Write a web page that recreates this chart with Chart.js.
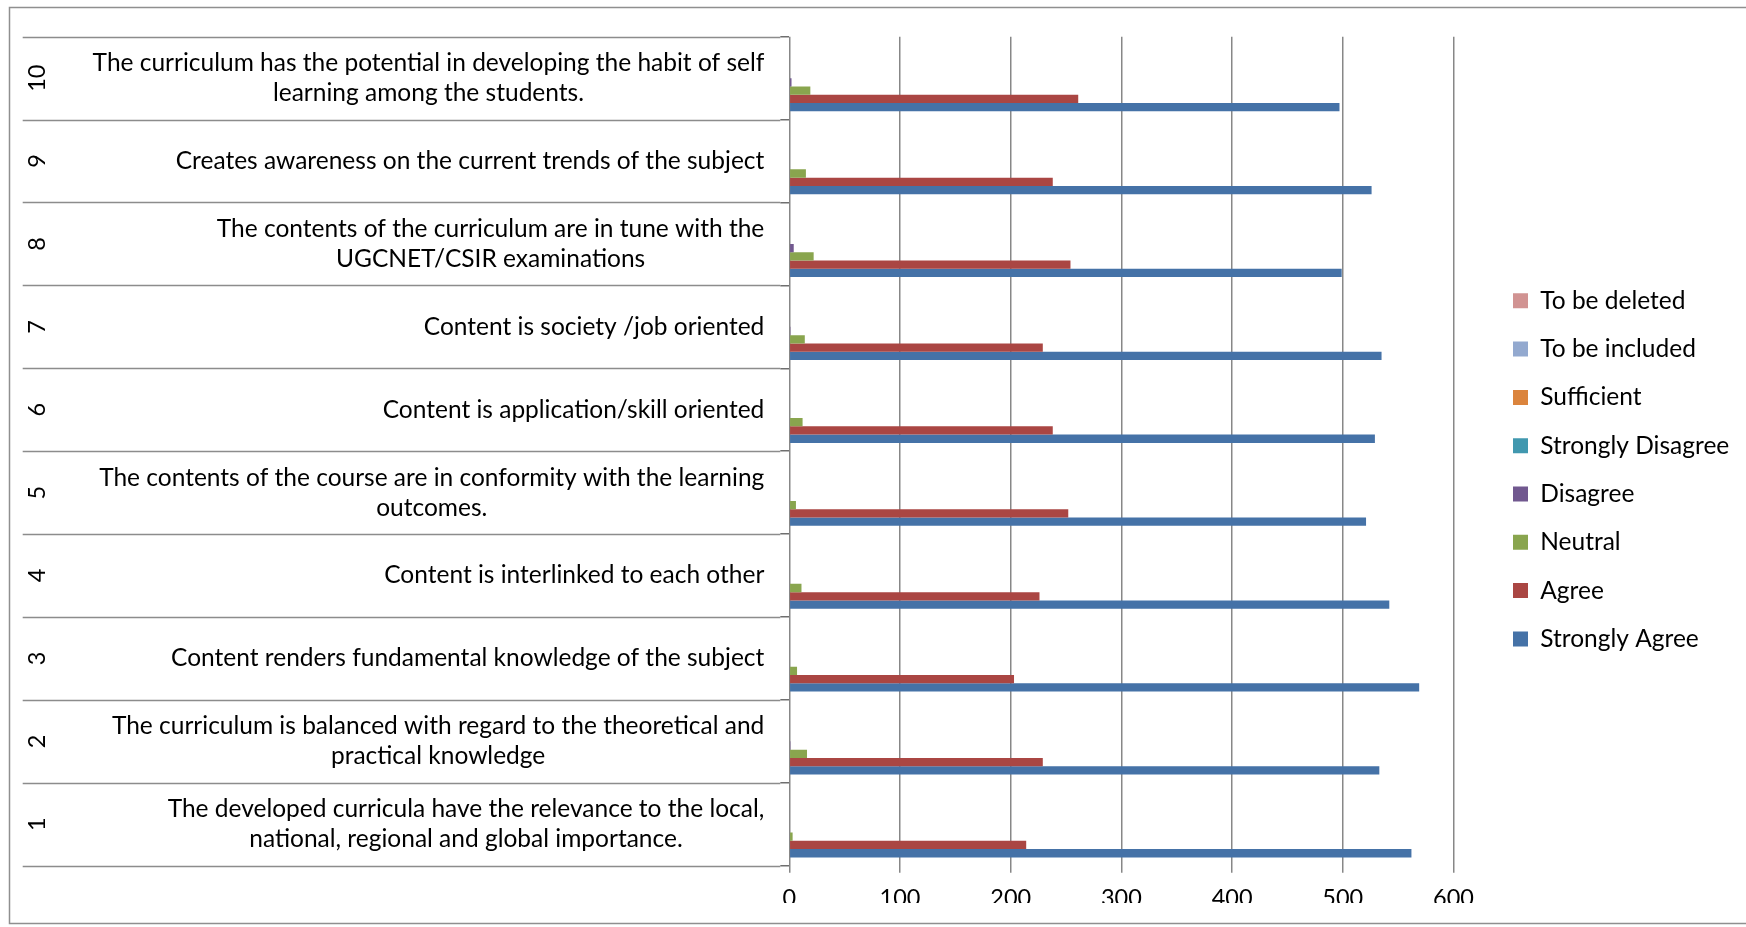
<!DOCTYPE html>
<html>
<head>
<meta charset="utf-8">
<script src="https://cdn.jsdelivr.net/npm/chart.js@4.4.1/dist/chart.umd.min.js"></script>
<style>
  html, body { margin: 0; padding: 0; background: #fff; }
  #wrap { width: 1746px; height: 927px; position: relative; }
</style>
</head>
<body>
<div id="wrap"><canvas id="surveyChart"></canvas></div>
<script>
// Datos del cuestionario (ítems 1..10)
const itemNumbers = ['1', '2', '3', '4', '5', '6', '7', '8', '9', '10'];
const statements = [
    ['The developed curricula have the relevance to the local,', 'national, regional and global importance.'],
    ['The curriculum is balanced with regard to the theoretical and', 'practical knowledge'],
    'Content renders fundamental knowledge of the subject',
    'Content is interlinked to each other',
    ['The contents of the course are in conformity with the learning', 'outcomes.'],
    'Content is application/skill oriented',
    'Content is society /job oriented',
    ['The contents of the curriculum are in tune with the', 'UGCNET/CSIR examinations'],
    'Creates awareness on the current trends of the subject',
    ['The curriculum has the potential in developing the habit of self', 'learning among the students.']
];

const toBeDeleted      = [0, 0, 0, 0, 0, 0, 0, 0, 0, 0];
const toBeIncluded     = [0, 0, 0, 0, 0, 0, 0, 0, 0, 0];
const sufficient       = [0, 0, 0, 0, 0, 0, 0, 0, 0, 0];
const stronglyDisagree = [0, 0, 0, 0, 0, 0, 0, 0, 0, 0];
const disagree         = [0, 1, 0, 0, 0, 0, 1, 4, 0, 2];
const neutral          = [3, 16, 7, 11, 6, 12, 14, 22, 15, 19];
const agree            = [214, 229, 203, 226, 252, 238, 229, 254, 238, 261];
const stronglyAgree    = [562, 533, 569, 542, 521, 529, 535, 499, 526, 497];

const xTicks = [0, 100, 200, 300, 400, 500, 600];

const fontFamily = 'Lato';
const textSize = 24.5;   // enunciados y leyenda
const tickSize = 23.5;   // números
const textColor = '#000000';
const gridColor = '#878787';

// Medidas para colocar la leyenda como en el original
const measure = document.createElement('canvas').getContext('2d');
measure.font = textSize + 'px ' + fontFamily;
const legendTextW = Math.max(...['To be deleted', 'To be included', 'Sufficient', 'Strongly Disagree',
    'Disagree', 'Neutral', 'Agree', 'Strongly Agree'].map(s => measure.measureText(s).width));
const legendPad = 48.3 - textSize;
const legendLeft = 1513 - legendPad;
const legendW = legendPad + 15 + textSize / 2 + legendTextW + 10;
const padRight = 1746 - legendLeft - legendW;
const gapW = legendLeft - 1453.5;

Chart.defaults.font.family = fontFamily;
Chart.defaults.font.size = tickSize;
Chart.defaults.color = textColor;

// Etiquetas laterales: número girado + enunciado, y líneas separadoras
const sideLabels = {
    id: 'sideLabels',
    beforeDraw(chart) {
        const ctx = chart.ctx;
        ctx.save();
        ctx.strokeStyle = '#8f8f8f';
        ctx.lineWidth = 1.5;
        ctx.strokeRect(9.5, 7.5, 1800, 916);
        ctx.restore();
    },
    afterDraw(chart) {
        const ctx = chart.ctx;
        const y = chart.scales.y;
        const left = chart.chartArea.left;
        ctx.save();
        ctx.strokeStyle = '#8c8c8c';
        ctx.lineWidth = 1.5;
        for (let i = 0; i <= statements.length; i++) {
            const py = Math.round(y.getPixelForValue(i - 0.5)) + 0.5;
            ctx.beginPath();
            ctx.moveTo(22.7, py);
            ctx.lineTo(left - 9, py);
            ctx.stroke();
        }
        ctx.fillStyle = textColor;
        ctx.font = textSize + 'px ' + fontFamily;
        ctx.textAlign = 'center';
        ctx.textBaseline = 'middle';
        statements.forEach((s, i) => {
            const lines = Array.isArray(s) ? s : [s];
            const widest = Math.max(...lines.map(l => ctx.measureText(l).width));
            const cx = left - 25 - widest / 2;
            const cy = y.getPixelForValue(i);
            lines.forEach((l, k) => ctx.fillText(l, cx, cy + (k - (lines.length - 1) / 2) * 30));
        });
        ctx.font = tickSize + 'px ' + fontFamily;
        itemNumbers.forEach((n, i) => {
            ctx.save();
            ctx.translate(37, y.getPixelForValue(i));
            ctx.rotate(-Math.PI / 2);
            ctx.fillText(n, 0, 0);
            ctx.restore();
        });
        ctx.restore();
    }
};

const ctx = document.getElementById('surveyChart').getContext('2d');

const surveyChart = new Chart(ctx, {
    type: 'bar',
    data: {
        labels: itemNumbers,
        datasets: [
            { label: 'To be deleted', data: toBeDeleted, backgroundColor: '#D19392' },
            { label: 'To be included', data: toBeIncluded, backgroundColor: '#93A9CF' },
            { label: 'Sufficient', data: sufficient, backgroundColor: '#DB843D' },
            { label: 'Strongly Disagree', data: stronglyDisagree, backgroundColor: '#4198AF' },
            { label: 'Disagree', data: disagree, backgroundColor: '#71588F' },
            { label: 'Neutral', data: neutral, backgroundColor: '#89A54E' },
            { label: 'Agree', data: agree, backgroundColor: '#AA4643' },
            { label: 'Strongly Agree', data: stronglyAgree, backgroundColor: '#4572A7' }
        ]
    },
    options: {
        indexAxis: 'y',
        responsive: true,
        maintainAspectRatio: false,
        animation: false,
        datasets: {
            bar: { categoryPercentage: 0.8, barPercentage: 1.0, borderWidth: 0 }
        },
        layout: {
            padding: { top: 36.7, bottom: 24, left: 0, right: padRight }
        },
        plugins: {
            legend: {
                position: 'right',
                labels: {
                    boxWidth: 15,
                    boxHeight: 15,
                    padding: legendPad,
                    color: textColor,
                    font: { size: textSize }
                }
            }
        },
        scales: {
            x: {
                min: 0,
                max: 600,
                afterBuildTicks: (s) => { s.ticks = xTicks.map(v => ({ value: v })); },
                afterFit: (s) => { s.height = 927 - 24 - 865.7; },
                grid: { color: gridColor, lineWidth: 1.5, tickLength: 7 },
                border: { display: false },
                ticks: { padding: 12, color: textColor, font: { size: tickSize } }
            },
            y: {
                reverse: true,
                afterFit: (s) => { s.width = 789.3; },
                grid: { drawOnChartArea: false, drawTicks: true, tickLength: 9, offset: true, color: '#6f6f6f', lineWidth: 1.5 },
                border: { display: false },
                ticks: { display: false }
            },
            yPad: {
                type: 'category',
                axis: 'y',
                position: 'right',
                afterFit: (s) => { s.width = gapW; },
                grid: { display: false },
                border: { display: false },
                ticks: { display: false }
            }
        }
    },
    plugins: [sideLabels]
});
</script>
</body>
</html>
